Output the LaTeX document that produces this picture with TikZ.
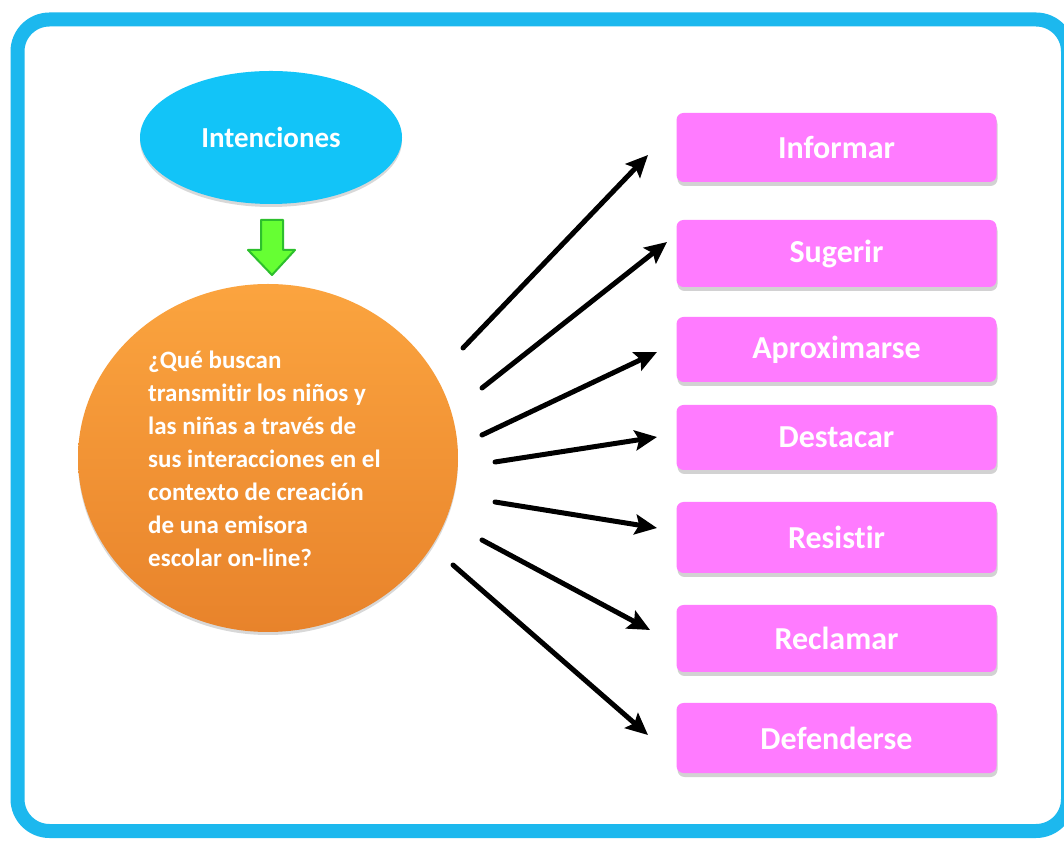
\documentclass[tikz,border=0pt]{standalone}
\usepackage{fontspec}
\setmainfont{Carlito}[Ligatures=NoCommon]
\usetikzlibrary{shapes.geometric,shadows,arrows.meta}
\definecolor{frameblue}{HTML}{1CB8EE}
\definecolor{ellblue}{HTML}{12C4F8}
\definecolor{boxpink}{HTML}{FF7BFF}
\definecolor{orangetop}{HTML}{FBA43F}
\definecolor{orangebot}{HTML}{E8832B}
\definecolor{arrowgreen}{HTML}{66FF33}
\definecolor{arrowedge}{HTML}{2DBF2D}
\tikzset{
  pinkbox/.style={draw=none, fill=boxpink, rounded corners=7pt, minimum width=320pt,
    text=white, font=\fontsize{32}{36}\selectfont\bfseries, inner sep=0pt,
    drop shadow={shadow xshift=1pt, shadow yshift=-4pt, opacity=0.35}},
  conn/.style={line width=5pt, line cap=round, -{Stealth[length=22pt,width=20pt,inset=4pt]}},
}
\begin{document}
\begin{tikzpicture}[x=1pt,y=1pt]
\useasboundingbox (0,0) rectangle (1064,840);
\clip (0,0) rectangle (1064,840);
\fill[white] (0,0) rectangle (1064,840);
% frame
\draw[frameblue, line width=14pt, rounded corners=32pt] (17.5,9) rectangle (1068,820.5);
% Intenciones
\node[ellipse, fill=ellblue, minimum width=262pt, minimum height=133pt, inner sep=0pt,
  text=white, font=\fontsize{29}{34}\selectfont\bfseries,
  drop shadow={shadow xshift=0pt, shadow yshift=-3pt, opacity=0.3}] (intent) at (271,702.5) {Intenciones};
% green arrow
\path[fill=arrowgreen, draw=arrowedge, line width=2pt, line join=round]
  (261,620) -- (283,620) -- (283,590) -- (295,590) -- (272,565) -- (248,590) -- (261,590) -- cycle;
% orange question
\node[ellipse, top color=orangetop, bottom color=orangebot, minimum width=380pt, minimum height=348pt,
  inner sep=0pt, drop shadow={shadow xshift=0pt, shadow yshift=-3pt, opacity=0.3}] (question) at (268,382) {};
\node[anchor=north west, align=left, inner sep=0pt, text=white,
  font=\fontsize{25}{32.9}\selectfont\bfseries] (qtext) at (148,489)
  {¿Qué buscan\\transmitir los niños y\\las niñas a través de\\sus interacciones en el\\contexto de creación\\de una emisora\\escolar on-line?};
% boxes
\node[pinkbox, minimum height=69pt] (b1) at (836.5,692.5) {Informar};
\node[pinkbox, minimum height=67pt] (b2) at (836.5,586.5) {Sugerir};
\node[pinkbox, minimum height=65pt] (b3) at (836.5,490.5) {Aproximarse};
\node[pinkbox, minimum height=65pt] (b4) at (836.5,402.5) {Destacar};
\node[pinkbox, minimum height=71pt] (b5) at (836.5,302.5) {Resistir};
\node[pinkbox, minimum height=67pt] (b6) at (836.5,201.5) {Reclamar};
\node[pinkbox, minimum height=70pt] (b7) at (836.5,102) {Defenderse};
% connector ends
\coordinate (s1) at (463,492); \coordinate (t1) at (648,685);
\coordinate (s2) at (482,452); \coordinate (t2) at (667,598);
\coordinate (s3) at (482,405); \coordinate (t3) at (657,488);
\coordinate (s4) at (495,378); \coordinate (t4) at (657,403);
\coordinate (s5) at (495,338); \coordinate (t5) at (657,312);
\coordinate (s6) at (482,300); \coordinate (t6) at (650,210);
\coordinate (s7) at (453,275); \coordinate (t7) at (648,105);
\foreach \i in {1,...,7} { \draw[conn] (s\i) -- (t\i); }
\end{tikzpicture}
\end{document}
